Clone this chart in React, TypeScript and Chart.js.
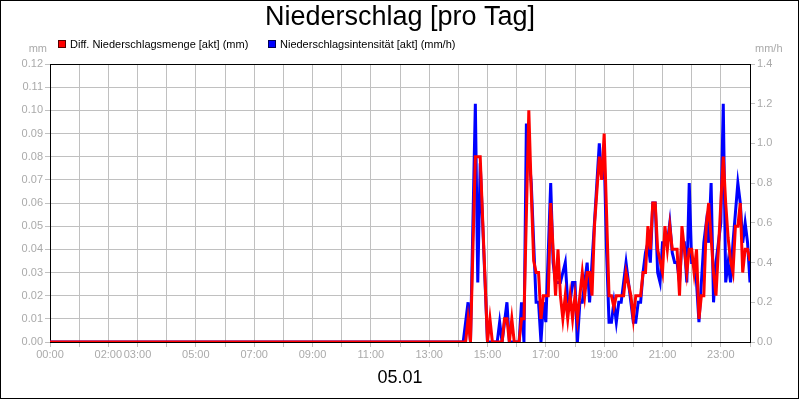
import React, { useEffect, useRef } from 'react';
import { Chart, registerables } from 'chart.js';

Chart.register(...registerables);

const chartTitle = 'Niederschlag [pro Tag]';
const dateLabel = '05.01';
const seriesNames = ['Diff. Niederschlagsmenge [akt] (mm)', 'Niederschlagsintensität [akt] (mm/h)'];
const leftUnit = 'mm';
const rightUnit = 'mm/h';

// one label per hour tick (00:00 .. 24:00); empty strings are unlabeled ticks
const hourLabels = [
  '00:00', '', '02:00', '03:00', '', '05:00', '', '07:00', '', '09:00', '', '11:00', '',
  '13:00', '', '15:00', '', '17:00', '', '19:00', '', '21:00', '', '23:00', '',
];

// 5-minute values, 00:00 .. 24:00 (one row per hour)
const mengeMm = [
  0, 0, 0, 0, 0, 0, 0, 0, 0, 0, 0, 0, // 00
  0, 0, 0, 0, 0, 0, 0, 0, 0, 0, 0, 0, // 01
  0, 0, 0, 0, 0, 0, 0, 0, 0, 0, 0, 0, // 02
  0, 0, 0, 0, 0, 0, 0, 0, 0, 0, 0, 0, // 03
  0, 0, 0, 0, 0, 0, 0, 0, 0, 0, 0, 0, // 04
  0, 0, 0, 0, 0, 0, 0, 0, 0, 0, 0, 0, // 05
  0, 0, 0, 0, 0, 0, 0, 0, 0, 0, 0, 0, // 06
  0, 0, 0, 0, 0, 0, 0, 0, 0, 0, 0, 0, // 07
  0, 0, 0, 0, 0, 0, 0, 0, 0, 0, 0, 0, // 08
  0, 0, 0, 0, 0, 0, 0, 0, 0, 0, 0, 0, // 09
  0, 0, 0, 0, 0, 0, 0, 0, 0, 0, 0, 0, // 10
  0, 0, 0, 0, 0, 0, 0, 0, 0, 0, 0, 0, // 11
  0, 0, 0, 0, 0, 0, 0, 0, 0, 0, 0, 0, // 12
  0, 0, 0, 0, 0, 0, 0, 0, 0, 0, 0, 0, // 13
  0, 0, 0, 0, 0.01, 0, 0.04, 0.08, 0.08, 0.08, 0.053, 0.027, // 14
  0, 0.01, 0, 0, 0, 0, 0, 0.01, 0.01, 0, 0.01, 0, // 15
  0, 0, 0.01, 0.01, 0.055, 0.1, 0.065, 0.035, 0.03, 0.03, 0.01, 0.02, // 16
  0.02, 0.02, 0.06, 0.04, 0.02, 0.04, 0.02, 0.01, 0.02, 0.01, 0.02, 0.01, // 17
  0.02, 0.01, 0.02, 0.03, 0.02, 0.03, 0.03, 0.02, 0.05, 0.065, 0.08, 0.07, // 18
  0.09, 0.055, 0.02, 0.02, 0.015, 0.02, 0.02, 0.02, 0.02, 0.03, 0.025, 0.02, // 19
  0.01, 0.02, 0.02, 0.02, 0.03, 0.03, 0.05, 0.04, 0.06, 0.06, 0.04, 0.035, // 20
  0.03, 0.05, 0.04, 0.05, 0.04, 0.04, 0.04, 0.02, 0.05, 0.04, 0.03, 0.04, // 21
  0.04, 0.03, 0.04, 0.01, 0.02, 0.02, 0.05, 0.06, 0.045, 0.03, 0.02, 0.04, // 22
  0.06, 0.08, 0.06, 0.045, 0.035, 0.03, 0.05, 0.05, 0.06, 0.03, 0.04, 0.04, // 23
  0.035, // 24:00
];

const intensitaetMmH = [
  0, 0, 0, 0, 0, 0, 0, 0, 0, 0, 0, 0, // 00
  0, 0, 0, 0, 0, 0, 0, 0, 0, 0, 0, 0, // 01
  0, 0, 0, 0, 0, 0, 0, 0, 0, 0, 0, 0, // 02
  0, 0, 0, 0, 0, 0, 0, 0, 0, 0, 0, 0, // 03
  0, 0, 0, 0, 0, 0, 0, 0, 0, 0, 0, 0, // 04
  0, 0, 0, 0, 0, 0, 0, 0, 0, 0, 0, 0, // 05
  0, 0, 0, 0, 0, 0, 0, 0, 0, 0, 0, 0, // 06
  0, 0, 0, 0, 0, 0, 0, 0, 0, 0, 0, 0, // 07
  0, 0, 0, 0, 0, 0, 0, 0, 0, 0, 0, 0, // 08
  0, 0, 0, 0, 0, 0, 0, 0, 0, 0, 0, 0, // 09
  0, 0, 0, 0, 0, 0, 0, 0, 0, 0, 0, 0, // 10
  0, 0, 0, 0, 0, 0, 0, 0, 0, 0, 0, 0, // 11
  0, 0, 0, 0, 0, 0, 0, 0, 0, 0, 0, 0, // 12
  0, 0, 0, 0, 0, 0, 0, 0, 0, 0, 0, 0, // 13
  0, 0, 0, 0.1, 0.2, 0, 0.6, 1.2, 0.3, 0.9, 0.6, 0.3, // 14
  0, 0, 0, 0, 0, 0.1, 0, 0.1, 0.2, 0, 0, 0, // 15
  0, 0, 0.2, 0, 1.1, 0.95, 0.8, 0.5, 0.2, 0.2, 0, 0.2, // 16
  0.1, 0.45, 0.8, 0.4, 0.3, 0.3, 0.3, 0.35, 0.4, 0.2, 0.2, 0.3, // 17
  0.3, 0, 0.2, 0.2, 0.3, 0.4, 0.2, 0.4, 0.6, 0.8, 1.0, 0.82, // 18
  0.95, 0.45, 0.1, 0.1, 0.2, 0.1, 0.2, 0.2, 0.3, 0.4, 0.3, 0.2, // 19
  0.1, 0.1, 0.2, 0.2, 0.35, 0.45, 0.5, 0.4, 0.7, 0.7, 0.35, 0.3, // 20
  0.5, 0.5, 0.5, 0.6, 0.45, 0.4, 0.4, 0.3, 0.5, 0.5, 0.3, 0.8, // 21
  0.4, 0.4, 0.3, 0.1, 0.3, 0.5, 0.6, 0.5, 0.8, 0.2, 0.4, 0.5, // 22
  0.6, 1.2, 0.3, 0.4, 0.3, 0.5, 0.65, 0.8, 0.7, 0.5, 0.6, 0.5, // 23
  0.3, // 24:00
];

const FONT = '"Liberation Sans", Arial, Helvetica, sans-serif';
const TICK_COLOR = '#aaaaaa';
const GRID_COLOR = '#c0c0c0';

export default function App() {
  const ref = useRef<HTMLCanvasElement>(null);

  useEffect(() => {
    document.body.style.margin = '0';
    const canvas = ref.current;
    if (!canvas) return;

    const deco = {
      id: 'deco',
      afterDraw(chart: any) {
        const { ctx, chartArea } = chart;
        ctx.save();
        // plot frame top line
        ctx.strokeStyle = '#000000';
        ctx.lineWidth = 1;
        ctx.beginPath();
        ctx.moveTo(chartArea.left, Math.round(chartArea.top) + 0.5);
        ctx.lineTo(chartArea.right, Math.round(chartArea.top) + 0.5);
        ctx.stroke();
        // outer border
        ctx.strokeRect(0.5, 0.5, 798, 398);

        // title
        ctx.fillStyle = '#000000';
        ctx.font = `27px ${FONT}`;
        ctx.textAlign = 'center';
        ctx.textBaseline = 'middle';
        ctx.fillText(chartTitle, 400, 18);

        // legend
        ctx.font = `11px ${FONT}`;
        ctx.textAlign = 'left';
        ctx.fillStyle = '#ff0000';
        ctx.fillRect(58, 40, 8, 8);
        ctx.strokeStyle = '#550000';
        ctx.strokeRect(58.5, 40.5, 7, 7);
        ctx.fillStyle = '#000000';
        ctx.fillText(seriesNames[0], 70, 44.5);
        ctx.fillStyle = '#0000ff';
        ctx.fillRect(268, 40, 8, 8);
        ctx.strokeStyle = '#000055';
        ctx.strokeRect(268.5, 40.5, 7, 7);
        ctx.fillStyle = '#000000';
        ctx.fillText(seriesNames[1], 280, 44.5);

        // units
        ctx.fillStyle = TICK_COLOR;
        ctx.textAlign = 'right';
        ctx.fillText(leftUnit, 47, 49);
        ctx.textAlign = 'left';
        ctx.fillText(rightUnit, 755, 49);

        // date
        ctx.fillStyle = '#000000';
        ctx.font = `18px ${FONT}`;
        ctx.textAlign = 'center';
        ctx.fillText(dateLabel, 400, 378);
        ctx.restore();
      },
    };

    const tickFont = { family: FONT, size: 11 };

    const chart = new Chart(canvas, {
      type: 'line',
      data: {
        datasets: [
          {
            label: seriesNames[0],
            data: mengeMm.map((v, i) => ({ x: i, y: v })),
            borderColor: '#ff0000',
            backgroundColor: '#ff0000',
            borderWidth: 3,
            pointRadius: 0,
            tension: 0,
            yAxisID: 'y',
          },
          {
            label: seriesNames[1],
            data: intensitaetMmH.map((v, i) => ({ x: i, y: v })),
            borderColor: '#0000ff',
            backgroundColor: '#0000ff',
            borderWidth: 3,
            pointRadius: 0,
            tension: 0,
            yAxisID: 'y1',
          },
        ],
      },
      options: {
        animation: false,
        responsive: true,
        maintainAspectRatio: false,
        layout: { padding: { top: 64, left: 0, right: 0, bottom: 0 } },
        plugins: {
          legend: { display: false },
          title: { display: false },
          tooltip: { enabled: false },
        },
        scales: {
          x: {
            type: 'linear',
            min: 0,
            max: 288,
            afterFit: (s: any) => { s.height = 58; },
            ticks: {
              stepSize: 12,
              autoSkip: false,
              maxRotation: 0,
              color: TICK_COLOR,
              font: tickFont,
              padding: 1,
              callback: (v: any) => hourLabels[Math.round(Number(v) / 12)] ?? '',
            },
            grid: { color: GRID_COLOR, tickLength: 5, lineWidth: 1 },
            border: { color: '#000000', width: 1 },
          },
          y: {
            position: 'left',
            min: 0,
            max: 0.12,
            afterFit: (s: any) => { s.width = 50; },
            ticks: {
              stepSize: 0.01,
              color: TICK_COLOR,
              font: tickFont,
              padding: 2,
              callback: (v: any) => Number(v).toFixed(2),
            },
            grid: { color: GRID_COLOR, tickLength: 5, lineWidth: 1 },
            border: { color: '#000000', width: 1 },
          },
          y1: {
            position: 'right',
            min: 0,
            max: 1.4,
            afterFit: (s: any) => { s.width = 50; },
            ticks: {
              stepSize: 0.2,
              color: TICK_COLOR,
              font: tickFont,
              padding: 2,
              callback: (v: any) => Number(v).toFixed(1),
            },
            grid: { color: GRID_COLOR, tickLength: 5, lineWidth: 1, drawOnChartArea: false },
            border: { color: '#000000', width: 1 },
          },
        },
      },
      plugins: [deco],
    });

    return () => chart.destroy();
  }, []);

  return (
    <div style={{ position: 'absolute', left: 0, top: 0, width: 800, height: 400 }}>
      <canvas ref={ref} />
    </div>
  );
}
